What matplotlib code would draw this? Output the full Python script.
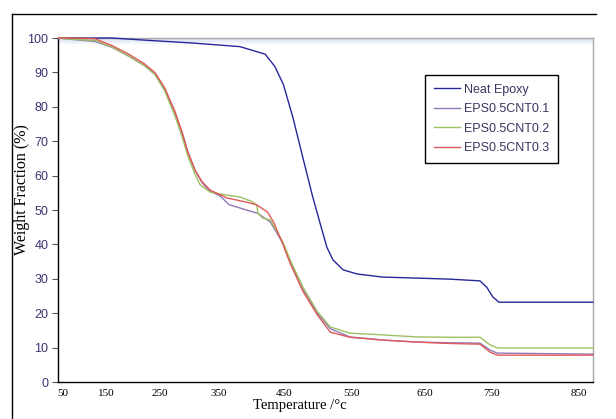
import numpy as np
import matplotlib
matplotlib.use("Agg")
from matplotlib import pyplot as plt
from matplotlib.lines import Line2D

# TGA curves, temperature (°C) vs weight fraction (%)
neat_t = [40, 160, 230, 300, 382, 421, 436, 449, 463, 478, 492, 503, 513, 522,
          537, 557, 592, 639, 687, 732, 742, 751, 758, 866]
neat_w = [100, 100, 99.3, 98.6, 97.5, 95.3, 91.7, 86.5, 77.0, 65.0, 54.0, 46.2, 39.2, 35.5,
          32.6, 31.4, 30.5, 30.2, 29.9, 29.4, 27.6, 24.7, 23.2, 23.2]

cnt1_t = [40, 71, 124, 161, 191, 222, 241, 258, 275, 287, 297, 309, 321, 331, 343, 352, 366,
          382, 392, 410, 429, 448, 459, 478, 499, 518, 547, 592, 639, 687, 732, 747, 756, 866]
cnt1_w = [100, 99.6, 99.0, 97.3, 94.8, 91.9, 89.4, 85.0, 78.5, 72.8, 67.0, 61.6, 58.0, 56.0,
          54.8, 54.0, 51.5, 50.6, 50.0, 49.0, 46.5, 40.4, 35.0, 27.0, 20.0, 15.5, 13.1, 12.2,
          11.6, 11.4, 11.3, 9.3, 8.4, 8.1]

cnt2_t = [40, 71, 124, 161, 191, 222, 241, 258, 275, 287, 297, 309, 318, 335, 362, 382, 400,
          408, 410, 417, 429, 448, 459, 478, 499, 518, 547, 592, 639, 687, 732, 747, 756, 866]
cnt2_w = [100, 99.6, 99.3, 97.4, 94.9, 91.9, 89.3, 84.6, 77.5, 71.5, 65.8, 60.5, 57.3, 55.2,
          54.3, 53.8, 52.5, 51.5, 49.1, 47.7, 47.1, 40.8, 35.5, 27.5, 20.5, 16.0, 14.2, 13.7,
          13.1, 13.0, 13.0, 10.8, 9.9, 9.9]

cnt3_t = [40, 71, 124, 161, 191, 222, 241, 258, 275, 287, 297, 309, 321, 335, 362, 392, 408,
          424.6, 434, 448, 459, 478, 499, 518, 547, 592, 639, 687, 732, 747, 756, 866]
cnt3_w = [100, 100, 99.8, 97.8, 95.4, 92.4, 89.9, 85.5, 78.8, 72.8, 67.0, 61.8, 58.3, 55.8,
          53.5, 52.3, 51.5, 49.4, 46.5, 40.2, 34.5, 26.3, 19.5, 14.5, 13.0, 12.2, 11.6, 11.2,
          11.0, 8.7, 7.8, 7.8]

x_ticks = [50, 150, 250, 350, 450, 550, 650, 750, 850]
y_ticks = list(range(0, 101, 10))
labels = ["Neat Epoxy", "EPS0.5CNT0.1", "EPS0.5CNT0.2", "EPS0.5CNT0.3"]
colors = ["#28279a", "#9078b8", "#9dc060", "#e05a5a"]

# the x axis of the original is not evenly spaced: map temperature -> screen position
scale_t = [30, 50, 150, 250, 350, 450, 550, 650, 750, 850, 900]
scale_p = [54.4, 63, 106, 160, 219, 284, 352, 425, 492, 579, 622.5]


def fwd(t):
    return np.interp(t, scale_t, scale_p)


def inv(p):
    return np.interp(p, scale_p, scale_t)


W, H = 616, 419
fig = plt.figure(figsize=(W / 100, H / 100), dpi=100)
ax = fig.add_axes([58 / W, 1 - 382 / H, (593 - 58) / W, (382 - 38) / H])

ax.set_xscale("function", functions=(fwd, inv))
ax.set_xlim(inv(58), inv(593))
ax.set_ylim(0, 100)

# faint shadow under the top border of the plot area
for lo, c in [(98.2, "#f2f5fb"), (98.8, "#e6ecf7"), (99.4, "#dbe4f3")]:
    ax.axhspan(lo, 100, color=c, lw=0, zorder=0)

series = [(neat_t, neat_w), (cnt1_t, cnt1_w), (cnt2_t, cnt2_w), (cnt3_t, cnt3_w)]
for (t, w), lab, c in zip(series, labels, colors):
    ax.plot(t, w, color=c, lw=1.0, label=lab, clip_on=False, zorder=3)

ax.set_xticks(x_ticks)
ax.set_xticklabels([str(v) for v in x_ticks], family="Liberation Serif", fontsize=8)
ax.tick_params(axis="x", length=0, pad=5)
ax.set_yticks(y_ticks)
ax.set_yticklabels([str(v) for v in y_ticks], family="Liberation Sans", fontsize=9,
                   color="#3b3570")
ax.tick_params(axis="y", length=4, width=0.8, color="#555555", pad=3)

for s in ["left", "bottom"]:
    ax.spines[s].set_color("black")
    ax.spines[s].set_linewidth(1.0)
for s in ["top", "right"]:
    ax.spines[s].set_color("#a8a8a8")
    ax.spines[s].set_linewidth(1.0)

leg = ax.legend(loc="upper left", bbox_to_anchor=(425 / W, 1 - 75 / H),
                bbox_transform=fig.transFigure, borderaxespad=0, fancybox=False,
                edgecolor="black", framealpha=1, borderpad=0.7, labelspacing=0.6,
                handlelength=2.1, handletextpad=0.3,
                prop={"family": "Liberation Sans", "size": 9})
leg.get_frame().set_linewidth(1.0)
for txt in leg.get_texts():
    txt.set_color("#3b3560")

fig.text(300 / W, 1 - 405 / H, "Temperature /°c", family="Liberation Serif",
         fontsize=10.5, ha="center", va="center")
fig.text(22 / W, 1 - 190 / H, "Weight Fraction (%)", family="Liberation Serif",
         fontsize=11.5, ha="center", va="center", rotation=90)

# outer frame of the picture
fig.add_artist(Line2D([12 / W, 596 / W], [1 - 14 / H, 1 - 14 / H], color="black", lw=1.0))
fig.add_artist(Line2D([12 / W, 12 / W], [1 - 14 / H, 0], color="black", lw=1.0))

fig.savefig("out.png", dpi=100)
